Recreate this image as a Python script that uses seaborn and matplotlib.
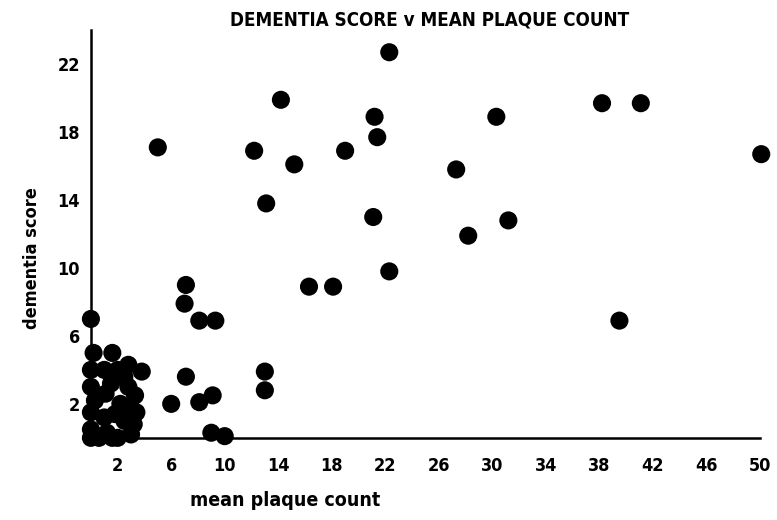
import matplotlib
matplotlib.use("Agg")
import matplotlib.pyplot as plt
import seaborn as sns
import pandas as pd

# mean plaque count (x) and dementia score (y)
plaque = [
    0.0, 0.2, 1.6, 2.8, 3.8, 0.0, 1.0, 2.0, 0.0, 1.5, 2.8, 3.3,
    0.3, 2.2, 3.0, 0.0, 1.0, 2.5, 3.2, 0.0, 1.2, 2.0, 3.0, 0.6,
    1.6, 1.8, 2.5, 1.1, 0.0, 3.4,
    5.0, 7.1, 7.0, 8.1, 9.3, 7.1, 6.0, 8.1, 9.1, 9.0, 10.0, 13.0, 13.0,
    12.2, 14.2, 13.1, 15.2, 16.3, 18.1, 19.0, 21.2, 21.4, 21.1, 22.3, 22.3,
    27.3, 28.2, 30.3, 31.2, 38.2, 41.1, 39.5, 50.1,
]
dementia = [
    7.0, 5.0, 5.0, 4.3, 3.9, 4.0, 4.0, 4.0, 3.0, 3.2, 3.0, 2.5,
    2.2, 2.0, 1.8, 1.5, 1.2, 1.0, 0.8, 0.5, 0.3, 0.0, 0.2, 0.0,
    0.0, 1.4, 3.6, 2.6, 0.0, 1.5,
    17.1, 9.0, 7.9, 6.9, 6.9, 3.6, 2.0, 2.1, 2.5, 0.3, 0.1, 3.9, 2.8,
    16.9, 19.9, 13.8, 16.1, 8.9, 8.9, 16.9, 18.9, 17.7, 13.0, 22.7, 9.8,
    15.8, 11.9, 18.9, 12.8, 19.7, 19.7, 6.9, 16.7,
]
x_labels = [2, 6, 10, 14, 18, 22, 26, 30, 34, 38, 42, 46, 50]
y_labels = [2, 6, 10, 14, 18, 22]

df = pd.DataFrame({"plaque": plaque, "dementia": dementia})

sns.set_style("white")
plt.rcParams["font.family"] = ["DejaVu Sans"]
plt.rcParams["font.stretch"] = "condensed"
plt.rcParams["font.weight"] = "bold"
plt.rcParams["text.color"] = "black"
plt.rcParams["axes.labelcolor"] = "black"
plt.rcParams["xtick.color"] = "black"
plt.rcParams["ytick.color"] = "black"

fig = plt.figure(figsize=(7.77, 5.2), dpi=100)
ax = fig.add_axes([0.117, 0.158, 0.861, 0.784])

sns.scatterplot(data=df, x="plaque", y="dementia", ax=ax, color="black",
                s=170, edgecolor="none", clip_on=False, legend=False)

ax.set_xlim(0, 50)
ax.set_ylim(0, 24)
for side in ["top", "right"]:
    ax.spines[side].set_visible(False)
for side in ["left", "bottom"]:
    ax.spines[side].set_color("black")
    ax.spines[side].set_linewidth(1.8)

ax.set_xticks(range(2, 51, 2), minor=True)
ax.set_xticks(x_labels)
ax.set_xticklabels([str(v) for v in x_labels])
ax.set_yticks(range(0, 25, 2), minor=True)
ax.set_yticks(y_labels)
ax.set_yticklabels([str(v) for v in y_labels])

ax.tick_params(axis="x", which="both", direction="in", length=16, width=1.8,
               labelsize=13, pad=14)
ax.tick_params(axis="y", which="major", direction="in", length=24, width=1.8,
               labelsize=13, pad=8)
ax.tick_params(axis="y", which="minor", direction="in", length=14, width=1.8)

ax.set_xlabel("mean plaque count", fontsize=14, fontweight="bold")
ax.xaxis.set_label_coords(0.29, -0.13)
ax.set_ylabel("dementia score", fontsize=13, fontweight="bold")
ax.yaxis.set_label_coords(-0.075, 0.44)

fig.text(0.553, 0.962, "DEMENTIA SCORE v MEAN PLAQUE COUNT", ha="center",
         va="center", fontsize=13.5, fontweight="bold")

fig.savefig("out.png", dpi=100)
